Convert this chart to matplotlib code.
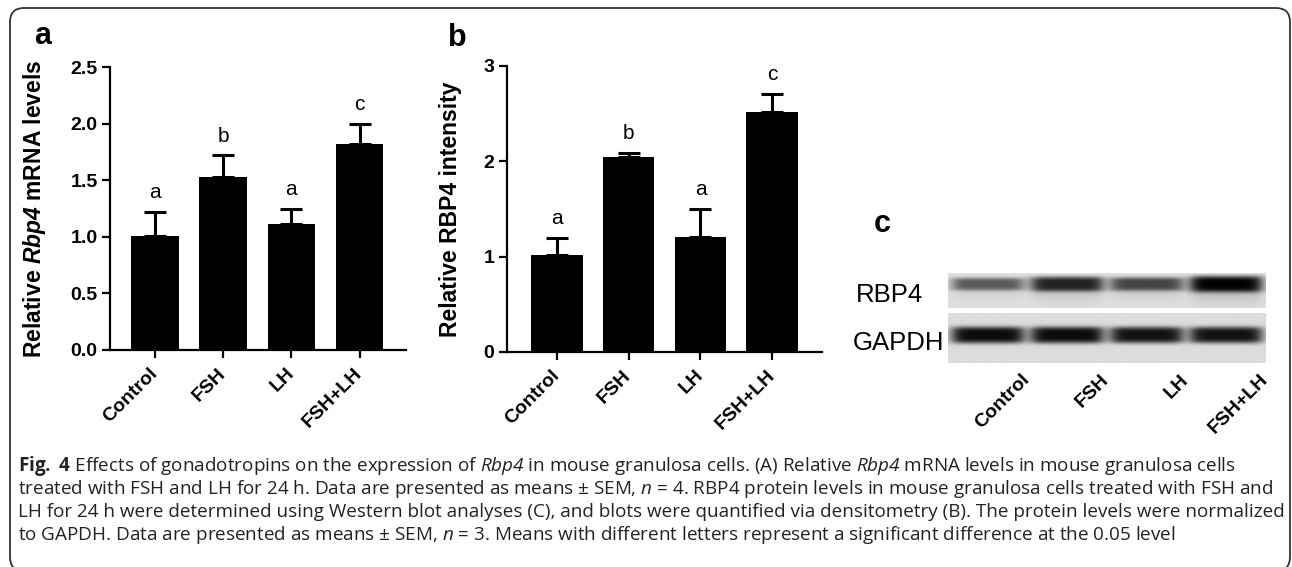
import matplotlib
matplotlib.use("Agg")
import matplotlib.pyplot as plt
import numpy as np
from matplotlib import transforms
from matplotlib.patches import FancyBboxPatch

plt.rcParams['font.family'] = ['Liberation Sans', 'DejaVu Sans']
plt.rcParams['mathtext.fontset'] = 'custom'
plt.rcParams['mathtext.rm'] = 'Open Sans'
plt.rcParams['mathtext.tt'] = 'Open Sans:italic'
plt.rcParams['mathtext.bf'] = 'Open Sans:bold'
plt.rcParams['mathtext.sf'] = 'Liberation Sans:italic:bold'

# data
groups = ["Control", "FSH", "LH", "FSH+LH"]
mrna_mean = [1.01, 1.53, 1.11, 1.82]
mrna_sem = [0.21, 0.19, 0.14, 0.18]
mrna_letters = ["a", "b", "a", "c"]
prot_mean = [1.02, 2.05, 1.21, 2.52]
prot_sem = [0.18, 0.04, 0.29, 0.19]
prot_letters = ["a", "b", "a", "c"]
# band darkness of the western blot lanes
rbp4_density = [0.60, 0.85, 0.70, 1.00]
gapdh_density = [0.95, 0.95, 0.92, 0.92]

caption = [
    r"$\mathbf{Fig.\;4}$ Effects of gonadotropins on the expression of $\mathtt{Rbp4}$ in mouse granulosa cells. (A) Relative $\mathtt{Rbp4}$ mRNA levels in mouse granulosa cells",
    r"treated with FSH and LH for 24 h. Data are presented as means ± SEM, $\mathtt{n}$ = 4. RBP4 protein levels in mouse granulosa cells treated with FSH and",
    "LH for 24 h were determined using Western blot analyses (C), and blots were quantified via densitometry (B). The protein levels were normalized",
    r"to GAPDH. Data are presented as means ± SEM, $\mathtt{n}$ = 3. Means with different letters represent a significant difference at the 0.05 level",
]

W, H = 1292, 567


def box(l, t, r, b):
    return [l / W, 1 - b / H, (r - l) / W, (b - t) / H]


def bar_panel(ax, means, sems, letters, width):
    x = np.arange(len(groups))
    ax.bar(x, means, width=width, color='black', zorder=2)
    ax.errorbar(x, means, yerr=[np.zeros(len(sems)), sems], fmt='none',
                ecolor='black', elinewidth=2.2, capsize=8, capthick=2.2, zorder=1)
    for xi, m, s, l in zip(x, means, sems, letters):
        ax.annotate(l, (xi, m + s), xytext=(0, 7), textcoords='offset points',
                    ha='center', va='bottom', fontsize=15)
    for side in ['top', 'right']:
        ax.spines[side].set_visible(False)
    for side in ['left', 'bottom']:
        ax.spines[side].set_linewidth(1.6)
    ax.tick_params(direction='out', length=6, width=1.6, labelsize=14)
    ax.set_xticks(x)
    ax.set_xticklabels(groups, rotation=45, ha='right', va='center',
                       rotation_mode='anchor', fontweight='bold')
    ax.tick_params(axis='x', pad=9)
    ax.tick_params(axis='y', pad=3)
    for lab in ax.get_yticklabels():
        lab.set_fontweight('bold')


def blot_strip(dens, rows, center, half, smear, bg):
    nx = 320
    xs = (np.arange(nx) + 0.5) / nx * 4
    ys = np.arange(rows) + 0.5
    img = np.full((rows, nx), bg)
    for i, d in enumerate(dens):
        lane = 1 / (1 + np.exp(-(xs - (i + 0.06)) * 22)) / (1 + np.exp((xs - (i + 0.94)) * 22))
        h = half * (0.55 + 0.6 * d)
        core = np.exp(-((ys - center) / h) ** 4)
        tail = smear * np.exp(-np.clip(ys - center, 0, None) / (6 * d + 3)) * (ys > center)
        prof = np.clip(core + tail * (1 - core), 0, 1)
        img -= d * bg * np.outer(prof, lane)
    return np.clip(img, 0, 1)


fig = plt.figure(figsize=(12.92, 5.67), dpi=100)

# panel a
ax_a = fig.add_axes(box(110, 67, 406, 350))
bar_panel(ax_a, mrna_mean, mrna_sem, mrna_letters, 0.7)
ax_a.set_xlim(-0.66, 3.68)
ax_a.set_ylim(0, 2.5)
ax_a.set_yticks([0, 0.5, 1.0, 1.5, 2.0, 2.5])
ax_a.set_yticklabels(["0.0", "0.5", "1.0", "1.5", "2.0", "2.5"], fontweight='bold')
ax_a.set_ylabel(r"Relative $\mathsf{Rbp4}$ mRNA levels", fontsize=16.5, fontweight='bold')
ax_a.yaxis.set_label_coords(-0.21, 0.5)

# panel b
ax_b = fig.add_axes(box(507, 66, 822, 352))
bar_panel(ax_b, prot_mean, prot_sem, prot_letters, 0.72)
ax_b.set_xlim(-0.69, 3.69)
ax_b.set_ylim(0, 3)
ax_b.set_yticks([0, 1, 2, 3])
ax_b.set_yticklabels(["0", "1", "2", "3"], fontweight='bold')
ax_b.set_ylabel("Relative RBP4 intensity", fontsize=16.5, fontweight='bold')
ax_b.yaxis.set_label_coords(-0.143, 0.5)

# panel c, western blot
ax_c = fig.add_axes(box(948, 273, 1266, 363))
ax_c.imshow(blot_strip(rbp4_density, 35, 11, 7, 0.5, 0.88), cmap='gray', vmin=0, vmax=1,
            extent=(0, 4, 35, 0), aspect='auto', interpolation='bilinear')
ax_c.imshow(blot_strip(gapdh_density, 50, 22, 7.5, 0.0, 0.86), cmap='gray', vmin=0, vmax=1,
            extent=(0, 4, 90, 40), aspect='auto', interpolation='bilinear')
ax_c.set_xlim(0, 4)
ax_c.set_ylim(90, 0)
ax_c.axis('off')
trans = transforms.blended_transform_factory(ax_c.transData, ax_c.transAxes)
shift = transforms.ScaledTranslation(24 / 72, -6 / 72, fig.dpi_scale_trans)
for i, g in enumerate(groups):
    ax_c.text(i + 0.5, 0, g, transform=trans + shift, rotation=45, ha='right',
              va='top', rotation_mode='anchor', fontsize=14, fontweight='bold')

fig.text(890 / W, 1 - 295 / H, "RBP4", fontsize=18.5, ha='center', va='center')
fig.text(898 / W, 1 - 343 / H, "GAPDH", fontsize=18.5, ha='center', va='center')

# panel letters
fig.text(43 / W, 1 - 36 / H, "a", fontsize=22, fontweight='bold', ha='center', va='center')
fig.text(457 / W, 1 - 38 / H, "b", fontsize=22, fontweight='bold', ha='center', va='center')
fig.text(882 / W, 1 - 224 / H, "c", fontsize=22, fontweight='bold', ha='center', va='center')

# caption
for k, line in enumerate(caption):
    fig.text(18 / W, 1 - (466 + 23 * k) / H, line, fontsize=13.6, family=['Open Sans', 'DejaVu Sans'],
             color='#222222', ha='left', va='center')

frame = FancyBboxPatch((10, -4), 1280, 563, boxstyle="round,pad=0,rounding_size=14",
                       transform=None, fill=False, edgecolor='#333333', linewidth=1.3)
fig.add_artist(frame)

fig.savefig("out.png", dpi=100)
